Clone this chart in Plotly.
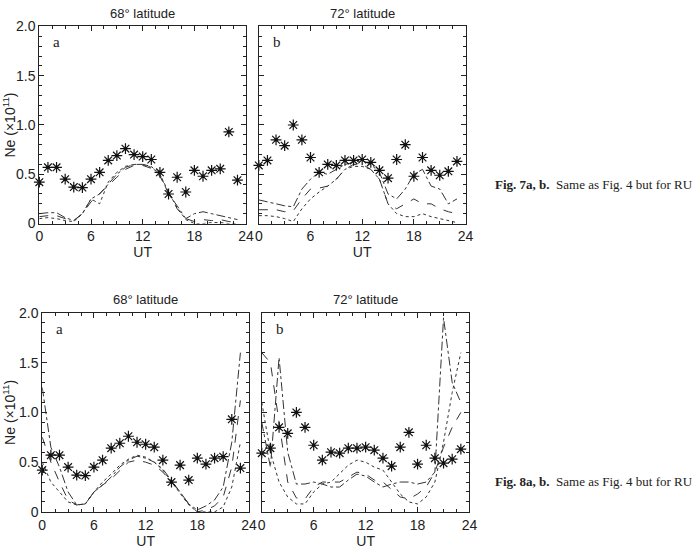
import plotly.graph_objects as go

W, H = 697, 550
ut = list(range(24))

# Observations (asterisks)
obs_68 = [0.42, 0.57, 0.57, 0.45, 0.37, 0.365, 0.45, 0.52, 0.64, 0.69, 0.76, 0.70,
          0.68, 0.65, 0.52, 0.30, 0.47, 0.32, 0.54, 0.48, 0.54, 0.555, 0.93, 0.44]
obs_72 = [0.59, 0.64, 0.85, 0.79, 1.00, 0.85, 0.67, 0.52, 0.60, 0.59, 0.64, 0.64,
          0.65, 0.62, 0.54, 0.46, 0.65, 0.80, 0.48, 0.67, 0.54, 0.49, 0.53, 0.63]

# Fig. 7 model curves
f7a_dashdot = [0.10, 0.11, 0.11, 0.06, 0.03, 0.10, 0.25, 0.30, 0.40, 0.50, 0.57, 0.60,
               0.60, 0.58, 0.50, 0.30, 0.18, 0.05, 0.10, 0.12, 0.10, 0.08, 0.06, 0.04]
f7a_dash = [0.07, 0.08, 0.08, 0.05, 0.03, 0.10, 0.22, 0.30, 0.38, 0.47, 0.55, 0.59,
            0.59, 0.56, 0.48, 0.32, 0.15, 0.05, 0.02, 0.04, 0.03, 0.04, 0.02, 0.01]
f7a_dot = [0.05, 0.06, 0.05, 0.03, 0.02, 0.10, 0.25, 0.20, 0.42, 0.52, 0.58, 0.60,
           0.60, 0.57, 0.50, 0.32, 0.16, 0.04, 0.00, 0.00, 0.01, 0.01, 0.00, 0.00]
f7b_dashdot = [0.24, 0.22, 0.20, 0.18, 0.17, 0.35, 0.45, 0.52, 0.50, 0.55, 0.60, 0.62,
               0.64, 0.60, 0.52, 0.30, 0.25, 0.35, 0.50, 0.55, 0.38, 0.35, 0.20, 0.25]
f7b_dash = [0.14, 0.14, 0.14, 0.12, 0.13, 0.25, 0.35, 0.36, 0.38, 0.45, 0.55, 0.60,
            0.60, 0.55, 0.45, 0.20, 0.15, 0.20, 0.25, 0.20, 0.20, 0.15, 0.12, 0.10]
f7b_dot = [0.08, 0.08, 0.07, 0.05, 0.02, 0.15, 0.25, 0.32, 0.38, 0.45, 0.55, 0.58,
           0.58, 0.55, 0.45, 0.20, 0.10, 0.07, 0.07, 0.10, 0.07, 0.05, 0.03, 0.01]

# Fig. 8 model curves
f8a_dashdot = [1.25, 0.65, 0.45, 0.20, 0.07, 0.08, 0.20, 0.27, 0.35, 0.45, 0.52, 0.56,
               0.54, 0.50, 0.43, 0.32, 0.20, 0.08, 0.02, 0.06, 0.12, 0.25, 0.70, 1.60]
f8a_dash = [0.75, 0.50, 0.30, 0.12, 0.07, 0.08, 0.20, 0.27, 0.33, 0.42, 0.50, 0.52,
            0.50, 0.47, 0.40, 0.30, 0.20, 0.08, 0.00, 0.02, 0.06, 0.15, 0.45, 1.12]
f8a_dot = [0.50, 0.30, 0.20, 0.10, 0.07, 0.08, 0.20, 0.30, 0.38, 0.47, 0.53, 0.57,
           0.55, 0.50, 0.42, 0.30, 0.18, 0.07, 0.00, 0.00, 0.00, 0.05, 0.25, 0.70]
f8b_dashdot = [0.90, 0.45, 1.55, 0.60, 0.28, 0.28, 0.30, 0.28, 0.25, 0.25, 0.32, 0.38,
               0.36, 0.30, 0.25, 0.28, 0.30, 0.30, 0.28, 0.30, 0.40, 1.95, 1.30, 1.10]
f8b_dash = [1.60, 1.50, 0.90, 0.30, 0.14, 0.13, 0.25, 0.30, 0.30, 0.30, 0.35, 0.40,
            0.38, 0.32, 0.30, 0.22, 0.15, 0.13, 0.18, 0.25, 0.40, 0.65, 0.85, 1.00]
f8b_dot = [1.10, 0.60, 0.30, 0.15, 0.08, 0.08, 0.20, 0.28, 0.30, 0.38, 0.47, 0.52,
           0.50, 0.45, 0.42, 0.30, 0.18, 0.10, 0.08, 0.15, 0.30, 0.70, 1.20, 1.60]

x_ticks = [0, 6, 12, 18, 24]
y_ticks = [0, 0.5, 1.0, 1.5, 2.0]
y_ticktext = ["0", "0.5", "1.0", "1.5", "2.0"]
titles = ["68° latitude", "72° latitude"]
letters = ["a", "b"]
captions = ["Fig. 7a, b.", "Fig. 8a, b."]
caption_rest = "  Same as Fig. 4 but for RU"

# panel boxes in pixels: (x0, x1, y_top, y_bottom)
panels = [
    (34, 245, 19, 222), (258, 469, 19, 222),
    (37, 248, 314, 519), (261, 473, 314, 519),
]
panel_data = [
    (obs_68, f7a_dashdot, f7a_dash, f7a_dot),
    (obs_72, f7b_dashdot, f7b_dash, f7b_dot),
    (obs_68, f8a_dashdot, f8a_dash, f8a_dot),
    (obs_72, f8b_dashdot, f8b_dash, f8b_dot),
]

fig = go.Figure()
LC = "#222"
FONT = "Liberation Sans, Arial, sans-serif"

for i, ((x0, x1, yt, yb), (obs, dd, da, do)) in enumerate(zip(panels, panel_data)):
    n = "" if i == 0 else str(i + 1)
    xa, ya = "x" + n, "y" + n
    for vals, dash in ((dd, "dashdot"), (da, "dash"), (do, "dot")):
        fig.add_trace(go.Scatter(x=ut, y=vals, mode="lines", xaxis=xa, yaxis=ya,
                                 line=dict(color="#333", width=1, dash=dash), showlegend=False))
    fig.add_trace(go.Scatter(x=ut, y=obs, mode="markers", xaxis=xa, yaxis=ya,
                             marker=dict(symbol="asterisk-open", size=9, color="#111",
                                         line=dict(color="#111", width=1.2)),
                             showlegend=False, cliponaxis=False))
    fig.add_trace(go.Scatter(x=ut, y=obs, mode="markers", xaxis=xa, yaxis=ya,
                             marker=dict(symbol="square", size=3, color="#111"),
                             showlegend=False, cliponaxis=False))
    left = (i % 2 == 0)
    top = (i < 2)
    axcommon = dict(showline=True, linecolor=LC, linewidth=1, mirror="ticks",
                    ticks="inside", ticklen=5, tickcolor=LC, showgrid=False, zeroline=False,
                    tickfont=dict(family=FONT, size=14, color="#222"))
    fig.layout["xaxis" + n] = dict(
        axcommon, domain=[x0 / W, x1 / W], range=[0, 24], tickvals=x_ticks,
        anchor=ya,
        minor=dict(ticks="inside", ticklen=3, dtick=1.5, tickcolor=LC, showgrid=False),
        title=dict(text="UT", font=dict(family=FONT, size=14, color="#222"),
                   standoff=0 if top else 3),
    )
    ydict = dict(
        axcommon, domain=[1 - yb / H, 1 - yt / H], range=[0, 2.0],
        tickvals=y_ticks, ticktext=y_ticktext, showticklabels=left, anchor=xa,
        minor=dict(ticks="inside", ticklen=3, dtick=0.1, tickcolor=LC, showgrid=False),
    )
    if left:
        ydict["title"] = dict(text="Ne (×10<sup>11</sup>)",
                              font=dict(family=FONT, size=14, color="#222"), standoff=6)
    fig.layout["yaxis" + n] = ydict
    fig.add_annotation(x=(x0 + x1) / 2 / W, y=1 - (yt - 4) / H, xref="paper", yref="paper",
                       text=titles[i % 2], showarrow=False, xanchor="center", yanchor="bottom",
                       font=dict(family=FONT, size=13, color="#222"))
    fig.add_annotation(x=(x0 + 12) / W, y=1 - (yt + 6) / H, xref="paper", yref="paper",
                       text=letters[i % 2], showarrow=False, xanchor="left", yanchor="top",
                       font=dict(family="Liberation Serif, Times New Roman, serif", size=15, color="#222"))

for cap, ypx in zip(captions, (182, 488)):
    fig.add_annotation(x=497 / W, y=1 - ypx / H, xref="paper", yref="paper",
                       text="<b>" + cap + "</b>" + caption_rest, showarrow=False,
                       xanchor="left", yanchor="middle",
                       font=dict(family="Liberation Serif, Times New Roman, serif", size=13, color="#222"))

fig.update_layout(width=W, height=H, margin=dict(l=0, r=0, t=0, b=0),
                  paper_bgcolor="white", plot_bgcolor="white")

fig.write_html("out.html")
